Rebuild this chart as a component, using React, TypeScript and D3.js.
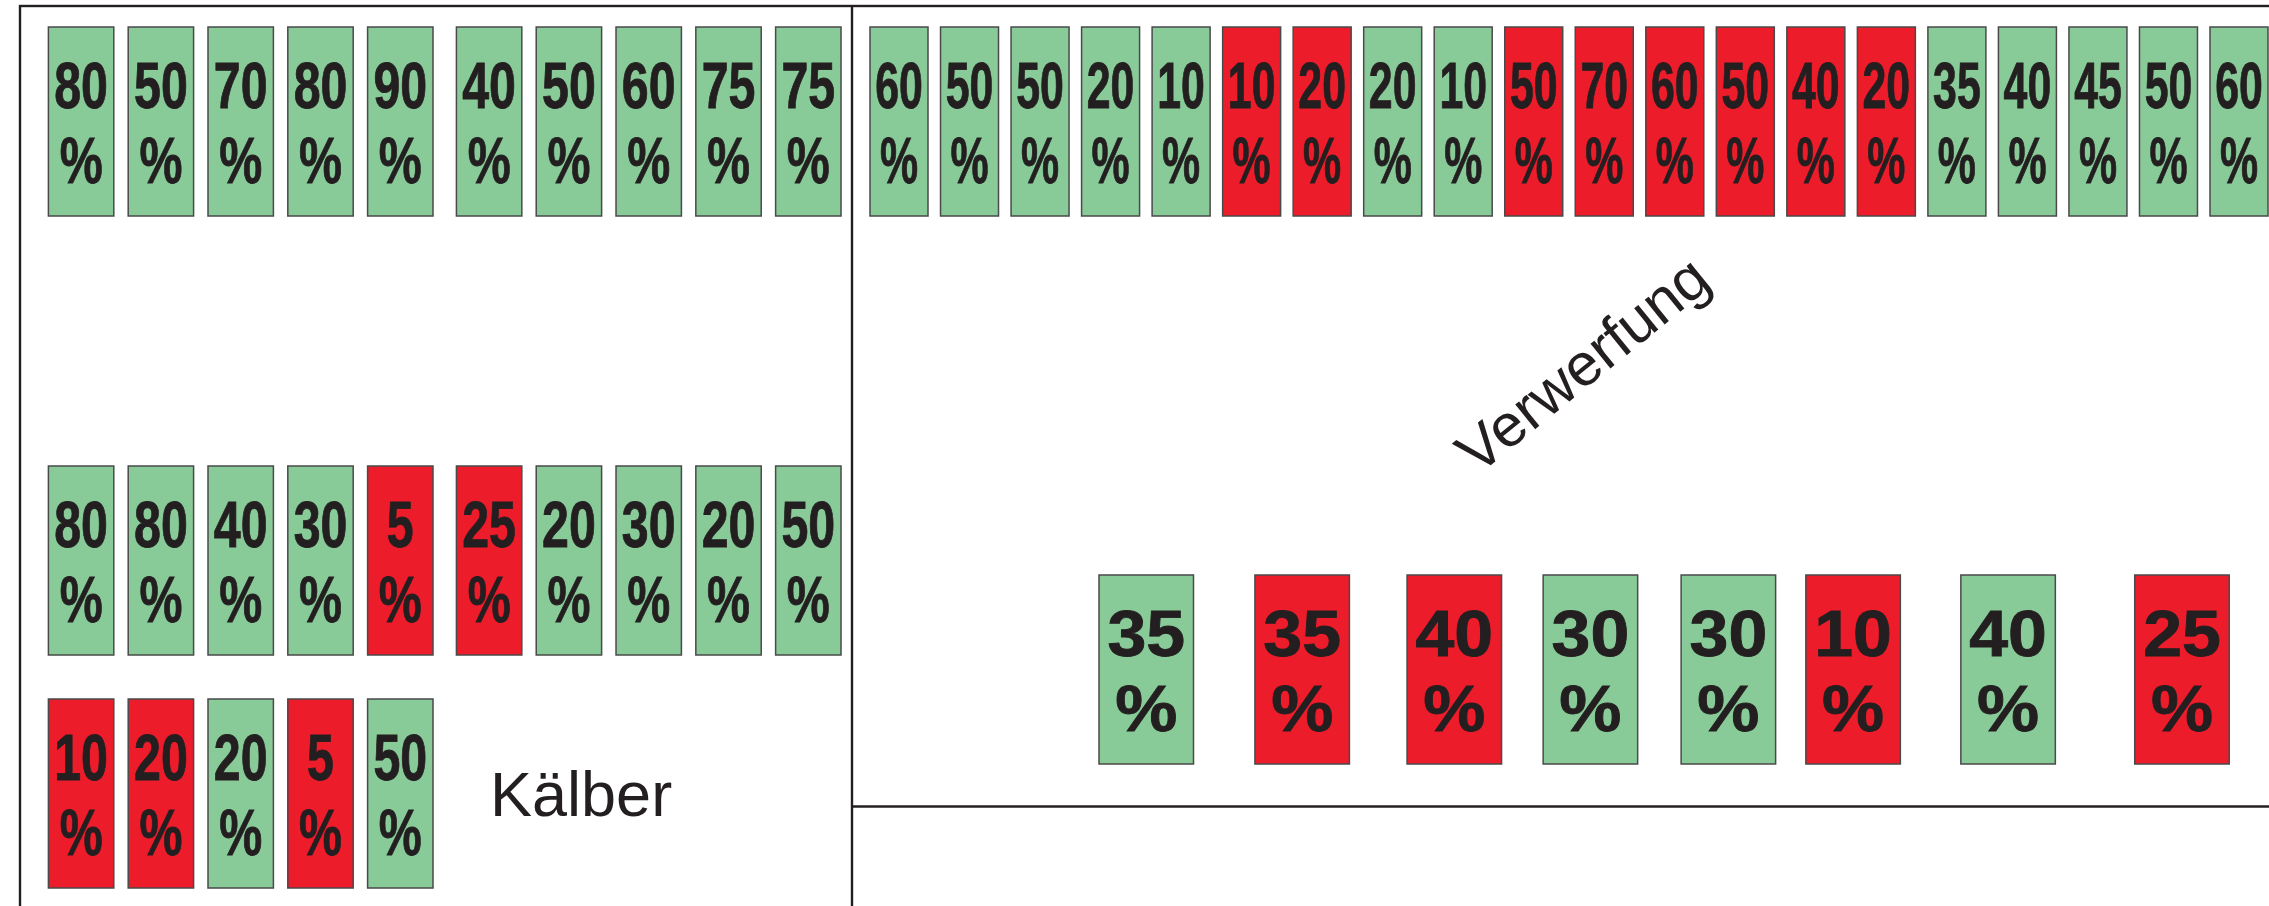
import React from 'react'
import * as d3 from 'd3'

// Percent per pen, flag "r" = red box, "g" = green box
const leftTopValues = [80, 50, 70, 80, 90, 40, 50, 60, 75, 75]
const leftTopFlags = ['g', 'g', 'g', 'g', 'g', 'g', 'g', 'g', 'g', 'g']

const leftMidValues = [80, 80, 40, 30, 5, 25, 20, 30, 20, 50]
const leftMidFlags = ['g', 'g', 'g', 'g', 'r', 'r', 'g', 'g', 'g', 'g']

const leftLowValues = [10, 20, 20, 5, 50]
const leftLowFlags = ['r', 'r', 'g', 'r', 'g']

const rightTopValues = [60, 50, 50, 20, 10, 10, 20, 20, 10, 50, 70, 60, 50, 40, 20, 35, 40, 45, 50, 60]
const rightTopFlags = ['g', 'g', 'g', 'g', 'g', 'r', 'r', 'g', 'g', 'r', 'r', 'r', 'r', 'r', 'r', 'g', 'g', 'g', 'g', 'g']

const rightLowValues = [35, 35, 40, 30, 30, 10, 40, 25]
const rightLowFlags = ['g', 'r', 'r', 'g', 'g', 'r', 'g', 'r']
// where each box of the lower right row sits, counted in box widths from the first one
const rightLowSlots = [0, 1.65, 3.26, 4.7, 6.16, 7.48, 9.12, 10.96]

const calvesLabel = 'Kälber'
const abortionLabel = 'Verwerfung'

const W = 2269
const H = 906
const GREEN = '#88cb98'
const RED = '#ec1c2a'
const INK = '#231f20'
const BOX_H = 189

function Box({ x, y, w, value, flag }: { x: number; y: number; w: number; value: number; flag: string }) {
  const cx = x + w / 2
  const sx = w / 88
  return (
    <g>
      <rect x={x} y={y} width={w} height={BOX_H} fill={flag === 'r' ? RED : GREEN} stroke="#4a4a4a" strokeWidth={1.5} />
      <g
        transform={`translate(${cx},0) scale(${sx},1)`}
        fill={INK}
        stroke={INK}
        strokeWidth={0.9}
        fontFamily="'Liberation Sans', Arial, sans-serif"
        fontWeight="bold"
        fontSize={65}
        textAnchor="middle"
      >
        <text x={0} y={y + 81}>{value}</text>
        <text x={0} y={y + 156}>%</text>
      </g>
    </g>
  )
}

export default function App() {
  // left panel: two groups of five pens with a small gap between them
  const leftX = d3.scaleLinear().domain([0, 1]).range([48.4, 128.2])
  const leftSlot = (i: number) => i + (i >= 5 ? 0.113 : 0)
  const leftW = 65.4

  const rightX = d3.scaleLinear().domain([0, rightTopValues.length - 1]).range([870, 2210])
  const rightW = 58

  const lowX = d3.scaleLinear().domain([0, 1]).range([1099, 1193.5])
  const lowW = 94.5

  const rowY = { top: 27, mid: 466, low: 699, rightLow: 575 }

  return (
    <div style={{ position: 'absolute', left: 0, top: 0 }}>
      <svg width={W} height={H} style={{ display: 'block', background: '#fff' }}>
        {/* frame */}
        <rect x={20} y={6} width={W + 20} height={H + 20} fill="none" stroke={INK} strokeWidth={2.4} />
        <line x1={852} x2={852} y1={6} y2={H} stroke={INK} strokeWidth={2.4} />
        <line x1={852} x2={W} y1={806.5} y2={806.5} stroke={INK} strokeWidth={2.4} />

        {leftTopValues.map((v, i) => (
          <Box key={'lt' + i} x={leftX(leftSlot(i))} y={rowY.top} w={leftW} value={v} flag={leftTopFlags[i]} />
        ))}
        {leftMidValues.map((v, i) => (
          <Box key={'lm' + i} x={leftX(leftSlot(i))} y={rowY.mid} w={leftW} value={v} flag={leftMidFlags[i]} />
        ))}
        {leftLowValues.map((v, i) => (
          <Box key={'ll' + i} x={leftX(leftSlot(i))} y={rowY.low} w={leftW} value={v} flag={leftLowFlags[i]} />
        ))}
        {rightTopValues.map((v, i) => (
          <Box key={'rt' + i} x={rightX(i)} y={rowY.top} w={rightW} value={v} flag={rightTopFlags[i]} />
        ))}
        {rightLowValues.map((v, i) => (
          <Box key={'rl' + i} x={lowX(rightLowSlots[i])} y={rowY.rightLow} w={lowW} value={v} flag={rightLowFlags[i]} />
        ))}

        <text x={490} y={816} fontFamily="'Liberation Sans', Arial, sans-serif" fontSize={63} fill={INK}>
          {calvesLabel}
        </text>
        <text
          transform="translate(1583,365) rotate(-39)"
          textAnchor="middle"
          dy="0.33em"
          fontFamily="'Liberation Sans', Arial, sans-serif"
          fontSize={60}
          fill={INK}
        >
          {abortionLabel}
        </text>
      </svg>
    </div>
  )
}
